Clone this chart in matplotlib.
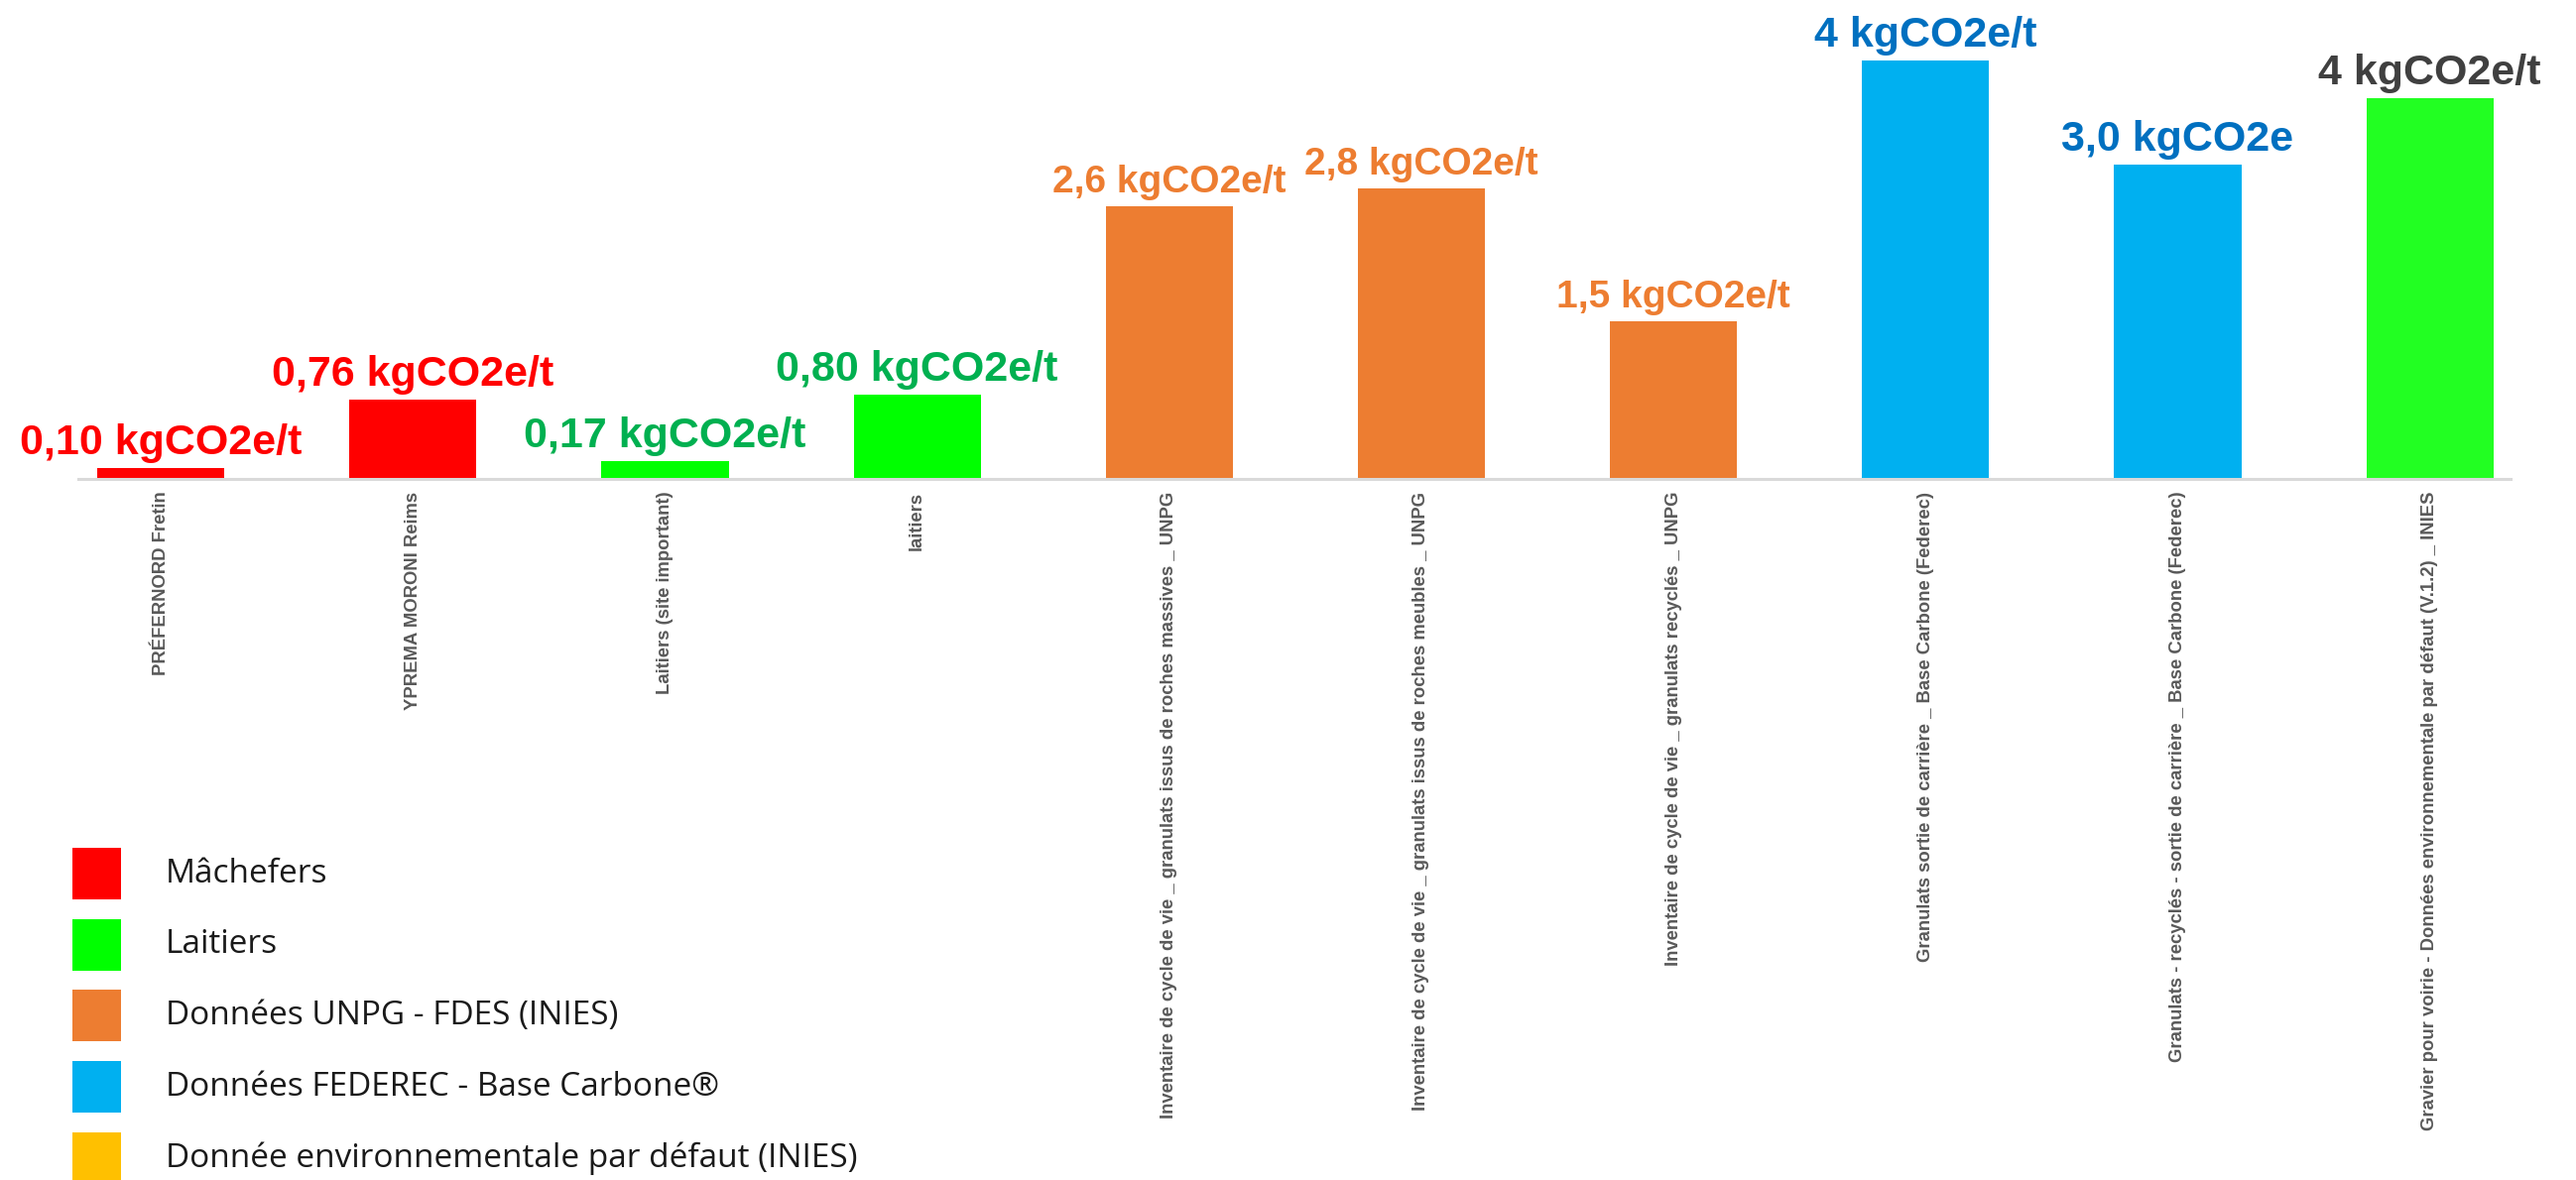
import matplotlib
matplotlib.use("Agg")
import matplotlib.pyplot as plt
from matplotlib.patches import Rectangle

# donnees
categories = [
    "PRÉFERNORD Fretin",
    "YPREMA MORONI Reims",
    "Laitiers (site important)",
    "laitiers",
    "Inventaire de cycle de vie _ granulats issus de roches massives _ UNPG",
    "Inventaire de cycle de vie _ granulats issus de roches meubles _ UNPG",
    "Inventaire de cycle de vie _ granulats recyclés _ UNPG",
    "Granulats sortie de carrière _ Base Carbone (Federec)",
    "Granulats - recyclés - sortie de carrière _ Base Carbone (Federec)",
    "Gravier pour voirie - Données environnementale par défaut (V.1.2) _ INIES",
]
valeurs = [0.10, 0.76, 0.17, 0.80, 2.6, 2.77, 1.5, 3.99, 3.0, 3.63]
etiquettes = ["0,10 kgCO2e/t", "0,76 kgCO2e/t", "0,17 kgCO2e/t", "0,80 kgCO2e/t",
              "2,6 kgCO2e/t", "2,8 kgCO2e/t", "1,5 kgCO2e/t", "4 kgCO2e/t",
              "3,0 kgCO2e", "4 kgCO2e/t"]
couleurs_barres = ["#FF0000", "#FF0000", "#00FF00", "#00FF00", "#ED7D31",
                   "#ED7D31", "#ED7D31", "#00B0F0", "#00B0F0", "#22FF22"]
couleurs_textes = ["#FF0000", "#FF0000", "#00B050", "#00B050", "#ED7D31",
                   "#ED7D31", "#ED7D31", "#0070C0", "#0070C0", "#404040"]
tailles_textes = [31, 31, 31, 31, 28, 28, 28, 31, 31, 31]

legende_noms = ["Mâchefers", "Laitiers", "Données UNPG - FDES (INIES)",
                "Données FEDEREC - Base Carbone®",
                "Donnée environnementale par défaut (INIES)"]
legende_couleurs = ["#FF0000", "#00FF00", "#ED7D31", "#00B0F0", "#FFC000"]

W, H = 2597, 1190
fig = plt.figure(figsize=(W / 100, H / 100), dpi=100)
fig.patch.set_facecolor("white")

# axe : gauche 79 px, droite 2531 px, base 483 px depuis le haut
ax = fig.add_axes([79 / W, 1 - 483 / H, (2531 - 79) / W, 483 / H])
x = list(range(len(categories)))
ax.bar(x, valeurs, width=0.504, color=couleurs_barres)
ax.set_xlim(-0.327, 9.32)
ax.set_ylim(0, 4.565)

for i in x:
    ax.annotate(etiquettes[i], (i, valeurs[i]), xytext=(0, 14),
                textcoords="offset pixels", ha="center", va="baseline",
                fontsize=tailles_textes[i], fontweight="bold",
                color=couleurs_textes[i],
                family=["Liberation Sans", "DejaVu Sans"], annotation_clip=False)

ax.set_xticks(x)
ax.set_xticklabels(categories, rotation=90, fontsize=13.3, fontweight="bold",
                   color="#595959", family=["Liberation Sans", "DejaVu Sans"])
ax.tick_params(axis="x", length=0, pad=9)
ax.set_yticks([])
for cote in ["left", "right", "top"]:
    ax.spines[cote].set_visible(False)
ax.spines["bottom"].set_color("#D9D9D9")
ax.spines["bottom"].set_linewidth(2.2)

# legende dessinee a la main (carres 49x52 px, pas de 71.7 px)
for k, (nom, c) in enumerate(zip(legende_noms, legende_couleurs)):
    haut = 855 + 71.7 * k
    fig.patches.append(Rectangle((73 / W, 1 - (haut + 52) / H), 49 / W, 52 / H,
                                 transform=fig.transFigure, facecolor=c,
                                 edgecolor="none"))
    fig.text(167 / W, 1 - (haut + 26) / H, nom, va="center", ha="left",
             fontsize=24, color="#1A1A1A",
             family=["Open Sans", "DejaVu Sans"])

fig.savefig("out.png", dpi=100)
